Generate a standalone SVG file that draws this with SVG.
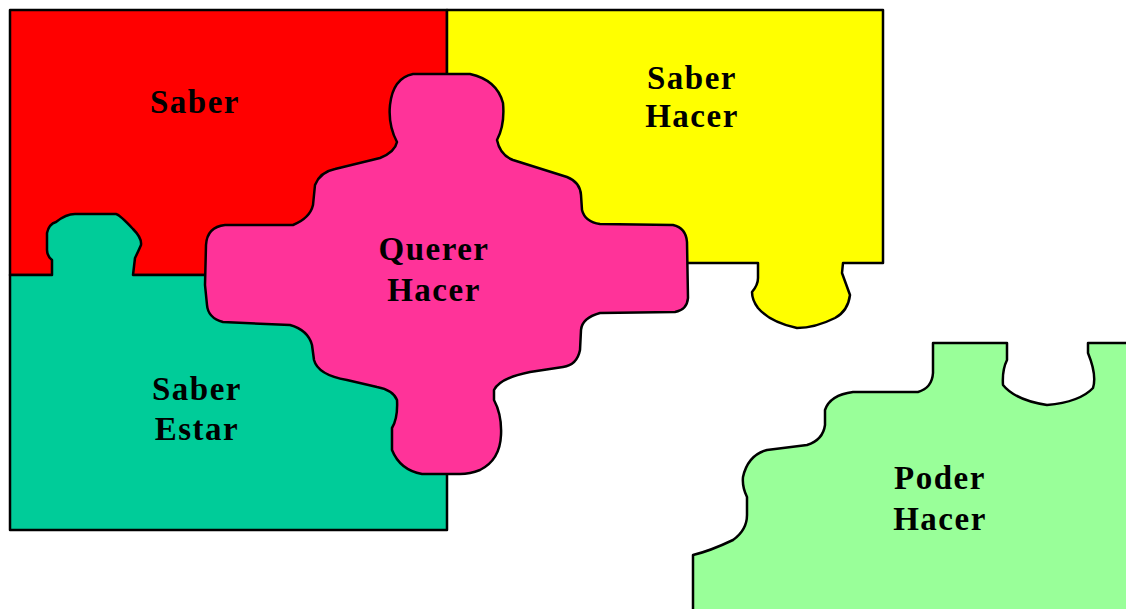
<svg xmlns="http://www.w3.org/2000/svg" width="1126" height="609" viewBox="0 0 1126 609">
<style>
.pc{stroke:#000;stroke-width:2.5;stroke-linejoin:round}
.t{font-family:"Liberation Serif","Times New Roman",serif;font-weight:bold;font-size:33px;letter-spacing:1.5px;text-anchor:middle;fill:#000}
</style>
<rect width="1126" height="609" fill="#fff"/>
<g id="saber">
<path class="pc" fill="#FF0000" d="M10,10 H447 V275 H10 Z"/>
</g>
<g id="saber-hacer">
<path class="pc" fill="#FFFF00" d="M447,10 H883 V263 H843 L842,273 Q846,284 850,295 Q848,311 835,318 Q815,328 797,328 Q770,322 758,308 Q752,300 752,292 Q758,285 758,278 V263 H447 Z"/>
</g>
<g id="saber-estar">
<path class="pc" fill="#00CC99" d="M10,275 H52 V260 Q47,256 47,250 L47,233 Q49,224 56,222 Q66,214 75,214 L116,214 Q120,215 133,229 Q142,238 141,245 Q138,252 135,258 L133,275 H447 V530 H10 Z"/>
</g>
<g id="querer-hacer">
<path class="pc" fill="#FF3399" d="M413,74 L470,74 Q497,80 503,103 Q505,125 497,140 Q500,155 513,160 L567,177 Q580,182 581,195 L582,210 Q585,222 600,224 L673,225 Q686,228 687,242 L688,298 Q687,310 675,312 L600,313 Q582,318 581,330 L580,350 Q577,365 563,367 L530,372 Q500,378 494,390 L494,400 Q502,415 501,435 Q500,460 480,470 Q470,474 460,474 L422,474 Q400,470 392,450 L392,428 Q398,418 397,400 Q393,390 377,387 L347,380 Q318,375 314,360 L312,345 Q308,330 290,325 L223,322 Q208,318 207,305 L205,285 L206,245 Q207,227 225,225 L293,225 Q310,218 313,205 L315,185 Q320,172 335,169 L380,158 Q395,152 397,142 Q388,125 390,105 Q393,78 413,74 Z"/>
</g>
<g id="poder-hacer">
<path class="pc" fill="#99FF99" d="M693,612 V555 Q710,551 733,540 Q747,530 747,515 L747,497 Q742,487 743,477 Q748,455 767,450 L807,445 Q823,440 825,425 L825,410 Q830,395 853,392 L918,392 Q932,388 933,373 V343 H1007 V360 Q1002,370 1003,385 Q1015,400 1047,405 Q1080,402 1093,388 Q1097,375 1088,353 V343 H1130 V612 Z"/>
</g>
<g id="connectors"></g>
<g id="labels">
<text class="t" x="195" y="113">Saber</text>
<text class="t" x="692" y="89">Saber</text>
<text class="t" x="692" y="127">Hacer</text>
<text class="t" x="434" y="260">Querer</text>
<text class="t" x="434" y="301">Hacer</text>
<text class="t" x="197" y="400">Saber</text>
<text class="t" x="197" y="440">Estar</text>
<text class="t" x="940" y="489">Poder</text>
<text class="t" x="940" y="530">Hacer</text>
</g>
</svg>
